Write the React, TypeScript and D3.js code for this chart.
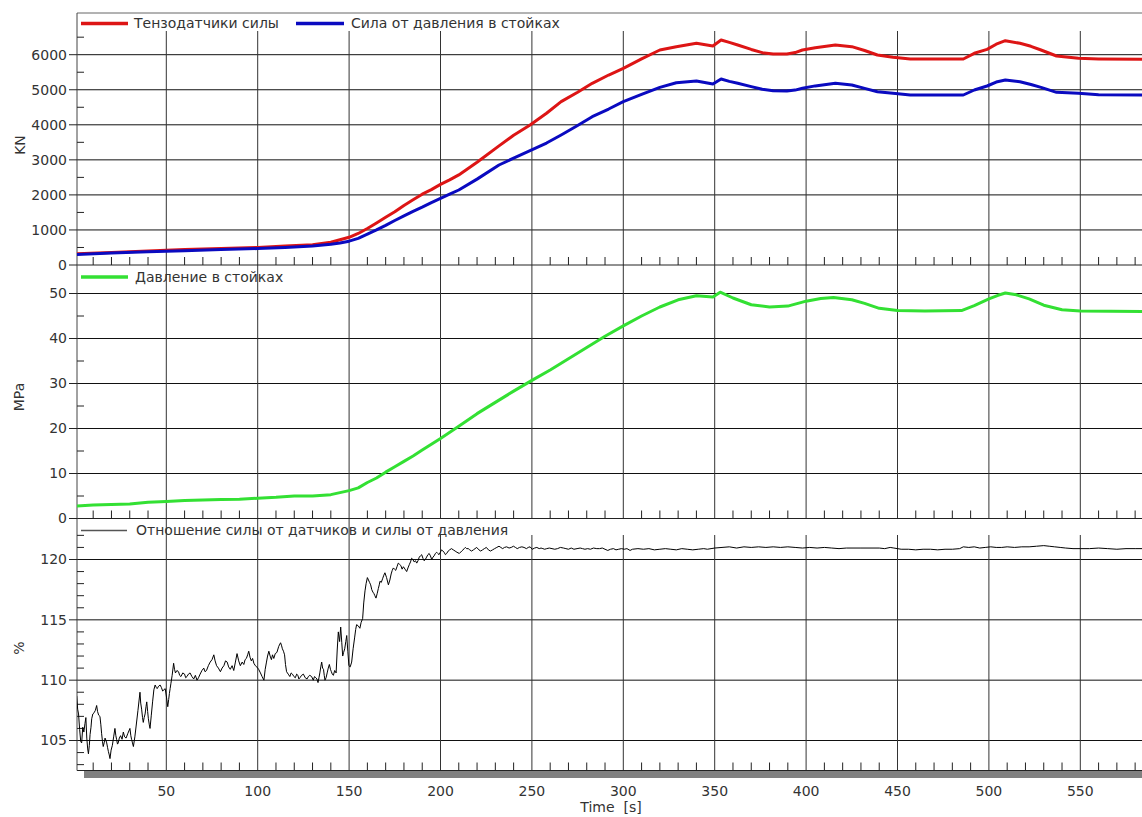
import React from "react";
import * as d3 from "d3";

const W = 1142;
const H = 817;

// ---- data ----
const forceT = [1, 20, 40, 60, 80, 100, 115, 130, 140, 145, 150, 155, 160, 165, 170, 175, 180, 185, 190, 195, 200, 205, 210, 220, 232, 240, 249, 258, 266, 275, 283, 292, 300, 310, 320, 329, 340, 349, 353.5, 358, 362.6, 370, 376, 382, 389.5, 394, 398, 405, 416, 425, 432, 439, 447.5, 457, 470, 486, 492, 499, 504, 509, 517, 523, 528.5, 537, 549, 560, 584];
const sensorForce = [320, 360, 400, 440, 470, 500, 540, 580, 650, 720, 790, 900, 1040, 1200, 1360, 1520, 1700, 1860, 2020, 2150, 2300, 2430, 2570, 2930, 3400, 3700, 3994, 4330, 4660, 4930, 5183, 5420, 5611, 5880, 6134, 6229, 6325, 6248, 6419, 6350, 6277, 6150, 6058, 6020, 6020, 6060, 6134, 6200, 6277, 6229, 6120, 5991, 5926, 5877, 5877, 5877, 6040, 6153, 6300, 6399, 6325, 6240, 6134, 5963, 5897, 5880, 5868];
const pressureForce = [300, 340, 380, 410, 440, 470, 500, 540, 590, 630, 680, 760, 880, 1000, 1130, 1270, 1400, 1530, 1650, 1780, 1900, 2020, 2140, 2450, 2853, 3050, 3260, 3480, 3709, 3980, 4232, 4450, 4660, 4870, 5069, 5201, 5250, 5164, 5307, 5240, 5184, 5090, 5012, 4970, 4964, 4990, 5041, 5110, 5184, 5136, 5040, 4945, 4898, 4850, 4850, 4850, 4993, 5107, 5220, 5278, 5230, 5150, 5069, 4926, 4898, 4860, 4850];

const pressT = [1, 10, 20, 30, 40, 50, 60, 70, 80, 90, 100, 110, 120, 130, 140, 150, 155, 160, 165, 170, 175, 180, 185, 190, 195, 200, 210, 220, 230, 240, 250, 260, 270, 280, 290, 300, 310, 320, 330, 340, 349, 353, 360, 370, 380, 390, 400, 408, 415, 425, 432, 440, 450, 465, 485, 492, 500, 505, 509, 515, 522, 530, 540, 550, 584];
const pressure = [2.8, 3.0, 3.1, 3.2, 3.6, 3.8, 4.0, 4.1, 4.2, 4.3, 4.5, 4.7, 5.0, 5.0, 5.3, 6.2, 6.8, 8.0, 9.0, 10.3, 11.5, 12.7, 13.9, 15.2, 16.5, 17.8, 20.5, 23.3, 25.8, 28.3, 30.7, 33.0, 35.5, 38.0, 40.5, 42.8, 45.0, 47.0, 48.6, 49.5, 49.2, 50.3, 49.0, 47.5, 47.0, 47.2, 48.3, 48.9, 49.1, 48.6, 47.8, 46.7, 46.2, 46.1, 46.2, 47.3, 48.8, 49.6, 50.1, 49.7, 48.8, 47.4, 46.4, 46.1, 46.0];

// [time s, ratio %]
const ratioPoints: [number, number][] = [
  [1,108.7],[1.5,107.6],[2,107.2],[2.6,105.9],[3.2,104.9],[3.7,104.8],[4.3,106.1],[4.9,105.7],[5.5,106.4],[6,106.9],[6.5,105.2],[7,104.3],[7.4,103.9],[7.9,104.6],[8.3,105.5],[8.8,106.1],[9.2,106.8],[9.8,107.2],[10.5,107.3],[11.2,107.5],[11.9,107.9],[12.4,107.4],[13,107.1],[13.7,107],[14.2,106.3],[14.6,105.6],[15.1,104.9],[15.5,104.5],[16,104.8],[16.5,105.2],[17,105],[17.4,104.8],[17.9,104.4],[18.3,104.1],[18.8,103.8],[19.2,103.5],[19.8,104.2],[20.5,104.6],[21.2,105.3],[21.9,106],[22.4,105.4],[22.8,105.1],[23.3,104.7],[23.7,104.8],[24.3,105.2],[25,105.4],[25.8,105.1],[26.5,105.7],[27.2,105.3],[28,105.2],[29,105.6],[30.1,106],[30.6,105.4],[31,105.1],[31.5,104.8],[32,104.5],[32.8,105.3],[33.5,106.2],[34.5,107.5],[35.6,109],[36,108.1],[36.5,107.6],[37,106.9],[37.4,106.5],[37.9,106.9],[38.4,107.2],[38.9,107.8],[39.3,108.2],[39.8,107.4],[40.2,106.8],[40.7,106.3],[41.1,106],[41.8,107.1],[42.5,108.2],[43.2,109.2],[43.9,109.6],[44.5,109.4],[45,109.3],[45.8,109.5],[46.6,109.6],[47.3,109.4],[48,109.1],[48.7,109.2],[49.4,109.3],[50.1,108.6],[50.8,107.8],[51.3,108.4],[51.7,108.9],[52.1,109.3],[52.5,109.7],[53.2,110.4],[54,111.4],[54.5,110.9],[55,110.6],[55.8,110.8],[56.7,110.7],[57.3,110.4],[58,110.3],[59,110.6],[60,110.5],[60.6,110.2],[61.3,110.3],[62.1,110.5],[63,110.6],[64,110.3],[65,110.1],[65.9,110.4],[66.8,110],[67.6,110.2],[68.5,110.5],[69.5,110.8],[70.5,111],[71.2,110.7],[72,110.8],[73,111.2],[74,111.5],[75,111.7],[76,112.1],[76.7,111.6],[77.5,111.2],[78.5,111],[79.6,110.7],[80.5,111],[81.5,111.2],[82.4,111.6],[83.3,111.5],[84.1,111.1],[85,110.9],[86,111.2],[86.9,110.8],[87.8,111.5],[88.7,112.2],[89.6,111.6],[90.5,111.2],[91.5,111.5],[92.4,111.3],[93.1,111.7],[93.8,111.8],[94.5,112.1],[95.1,112.4],[95.8,111.9],[96.5,111.6],[97.2,111.8],[97.9,111.4],[98.7,111.2],[99.5,111.1],[100.5,110.9],[101.5,110.6],[102.4,110.3],[103.4,110],[104.1,110.9],[104.8,111.5],[105.4,112],[106.1,112.4],[106.8,112],[107.5,111.7],[108.1,112.1],[108.8,111.8],[109.6,112.2],[110.5,112.3],[111.5,112.8],[112.5,113.1],[113,112.9],[113.5,112.6],[114.1,112.4],[114.7,112.1],[115.2,111.3],[115.8,110.7],[116.7,110.5],[117.6,110.3],[118.3,110.6],[119,110.5],[119.8,110.3],[120.6,110.2],[121.3,110.5],[122,110.4],[122.5,110.1],[123.1,110.2],[124,110.4],[125,110.5],[126,110.2],[127,110.1],[127.7,110.3],[128.5,110.4],[129.5,110.3],[130.4,110],[131.1,110.3],[131.8,110.2],[132.4,110.1],[133,109.8],[133.5,110.2],[134,110.6],[134.5,111.1],[135,111.5],[135.5,111],[136,110.9],[136.4,110.4],[136.8,110],[137.4,110.2],[138,110.6],[138.6,111],[139.2,111.3],[139.8,110.9],[140.3,110.7],[140.8,110.5],[141.4,110.4],[142.1,110.8],[142.9,110.6],[143.5,112.5],[144.1,114],[144.8,113.2],[145.4,114.4],[146,113.1],[146.5,112],[147,112.3],[147.6,112.6],[148.2,113.2],[148.7,113.7],[149.3,112.4],[149.9,111.2],[150.6,111.1],[151.4,111.5],[152.2,112.6],[153,113.5],[153.6,114.2],[154.1,114.6],[155,114.5],[155.9,114.3],[156.6,114.8],[157.4,115.1],[158,116.4],[158.7,117.4],[159.3,118],[160,118.5],[160.6,118.3],[161.2,118.1],[161.8,117.9],[162.4,117.5],[163,117.3],[163.5,117.2],[164.1,117],[164.7,116.8],[165.4,117.2],[166,117.6],[166.5,117.9],[166.9,118.2],[167.6,118.1],[168.3,118.4],[169,118.7],[169.6,118.9],[170.5,118.5],[171.5,117.9],[172.3,118.3],[173,118.8],[173.6,119.1],[174.2,119.3],[174.8,119.2],[175.5,119.1],[176.2,119.4],[176.9,119.7],[177.6,119.6],[178.3,119.5],[179,119.2],[179.7,119.4],[180.6,119.2],[181.5,119],[182.2,119.3],[183,119.6],[183.6,119.8],[184.2,120.1],[184.9,120],[185.6,119.8],[186.3,119.9],[187,119.7],[187.7,119.9],[188.4,120.2],[189,120.3],[189.7,120.4],[190.4,120.1],[191,119.9],[191.7,120],[192.4,120.2],[193.1,120.4],[193.8,120.5],[194.5,120.3],[195.2,120],[195.9,120.2],[196.5,120.3],[197.2,120.5],[197.9,120.6],[198.5,120.5],[199.2,120.4],[199.9,120.6],[200.6,120.8],[201.3,120.7],[202,120.6],[202.7,120.4],[203.4,120.5],[204.2,120.7],[205,120.8],[206,120.9],[207,120.8],[208,120.7],[209,120.6],[210.3,120.5],[211.6,120.7],[212.3,120.8],[213,120.9],[213.6,121],[214.3,120.9],[215.2,120.9],[216,120.8],[217,120.7],[218,120.8],[218.9,120.9],[219.8,121],[221,120.8],[222,120.7],[223,120.8],[224,120.9],[225.1,121],[226.2,120.8],[227.3,120.7],[228.5,120.8],[229.6,120.9],[230.8,121],[232,121.1],[233,121],[234,120.9],[235,121],[236.2,121.05],[237.5,120.95],[238.7,121],[239.9,121.1],[241,121],[242,120.9],[243.2,121],[244.5,121.05],[245.7,121],[247,120.9],[248,121],[249,121.05],[250.2,120.85],[251.5,120.95],[252.7,121],[254,120.9],[255,120.95],[256,120.9],[257,120.85],[258.1,120.9],[259.5,120.95],[261,120.9],[262.5,120.85],[264,120.9],[265.6,121],[267.3,120.95],[268.6,120.9],[270,120.85],[271.5,120.95],[273,120.85],[274.7,120.9],[276.4,120.95],[277.7,120.9],[279,120.85],[280.5,120.9],[282,120.85],[283.7,120.95],[285.5,120.9],[287,120.9],[288.5,120.95],[290,120.85],[291.5,120.75],[293,120.85],[294.6,120.9],[296,120.8],[297.5,120.85],[299,120.9],[300.5,120.85],[302,120.9],[303.7,120.75],[305,120.85],[308,120.9],[311,120.85],[314,120.9],[317,120.8],[320,120.85],[323,120.9],[326,120.85],[329,120.8],[332,120.9],[335,120.85],[338,120.8],[341,120.85],[344,120.9],[346,120.85],[348,120.9],[350,120.95],[354,121],[358,121.05],[362,120.95],[366,121.05],[370,121],[374,121.05],[378,121],[382,121.05],[386,121],[390,121.05],[394,121],[398,120.95],[402,121],[406,120.95],[410,121],[414,120.95],[418,120.9],[422,120.95],[430,120.95],[440,120.95],[443,120.9],[446,121],[448,120.95],[452,120.85],[456,120.85],[460,120.8],[464,120.85],[468,120.85],[472,120.8],[476,120.85],[480,120.85],[484,120.9],[486,121.05],[489,121],[492,121.05],[495,120.95],[498,121],[501,121.05],[504,121],[507,121],[510,121.05],[514,121],[518,121.05],[522,121.05],[526,121.1],[530,121.15],[533,121.1],[536,121.05],[539,121],[542,120.95],[546,120.9],[550,120.9],[555,120.9],[560,120.95],[565,120.9],[570,120.85],[575,120.9],[580,120.9],[584,120.9]
];

const xTicks = [50, 100, 150, 200, 250, 300, 350, 400, 450, 500, 550];
const kNTicks = [0, 1000, 2000, 3000, 4000, 5000, 6000];
const mpaTicks = [0, 10, 20, 30, 40, 50];
const pctTicks = [105, 110, 115, 120];

const legend1 = ["Тензодатчики силы", "Сила от давления в стойках"];
const legend2 = "Давление в стойках";
const legend3 = "Отношение силы от датчиков и силы от давления";

const FONT = "DejaVu Sans, Verdana, sans-serif";
const TXT = "#333";

export default function App() {
  const left = 77;
  const right = W;
  const top = 13;
  const p1b = 265;
  const p2b = 518.5;
  const p3b = 770.5;

  const x = d3.scaleLinear().domain([0, 600]).range([74.9, 74.9 + 12 * 91.4]);
  const y1 = d3.scaleLinear().domain([0, 6000]).range([p1b, p1b - 6 * 35.05]);
  const y2 = d3.scaleLinear().domain([0, 50]).range([p2b, p2b - 5 * 45]);
  const y3 = d3.scaleLinear().domain([105, 120]).range([740.5, 559.5]);

  const mk = (ts: number[], vs: number[], y: d3.ScaleLinear<number, number>) =>
    d3.line<number>().x((_, i) => x(ts[i])).y((v) => y(v))(vs) || "";
  const ratioPath =
    d3.line<[number, number]>().x((d) => x(d[0])).y((d) => y3(d[1]))(ratioPoints) || "";

  const minorX = d3.range(10, 590, 10).filter((t) => t % 50 !== 0);

  const kNMinor = d3.range(500, 7000, 1000);
  const mpaMinor = d3.range(5, 55, 10);
  const pctMinor = d3.range(103, 123, 1).filter((v) => v % 5 !== 0);

  const gridTop1 = 31;

  const yTickGroup = (
    ticks: number[],
    minor: number[],
    y: d3.ScaleLinear<number, number>,
    key: string
  ) => (
    <g key={key}>
      {ticks.map((t) => (
        <g key={t}>
          <line x1={left - 8} x2={left} y1={y(t)} y2={y(t)} stroke="#222" />
          <text
            x={left - 10}
            y={y(t)}
            dy="0.35em"
            textAnchor="end"
            fontFamily={FONT}
            fontSize={14}
            fill={TXT}
          >
            {t}
          </text>
        </g>
      ))}
      {minor.map((t) => (
        <line key={"m" + t} x1={left} x2={left + 7} y1={y(t)} y2={y(t)} stroke="#222" />
      ))}
    </g>
  );

  return (
    <svg
      width={W}
      height={H}
      style={{ position: "absolute", left: 0, top: 0, display: "block", background: "#fff" }}
    >
      <defs>
        <clipPath id="plotclip">
          <rect x={left} y={top} width={right - left} height={p3b - top} />
        </clipPath>
      </defs>
      <rect x={0} y={0} width={W} height={H} fill="#fff" />

      {/* horizontal gridlines */}
      {kNTicks.filter((t) => t > 0).map((t) => (
        <line key={"h1" + t} x1={left} x2={right} y1={y1(t)} y2={y1(t)} stroke="#111" />
      ))}
      {mpaTicks.filter((t) => t > 0).map((t) => (
        <line key={"h2" + t} x1={left} x2={right} y1={y2(t)} y2={y2(t)} stroke="#111" />
      ))}
      {pctTicks.map((t) => (
        <line key={"h3" + t} x1={left} x2={right} y1={y3(t)} y2={y3(t)} stroke="#111" />
      ))}

      {/* vertical gridlines */}
      {xTicks.map((t) => (
        <g key={"v" + t}>
          <line x1={x(t)} x2={x(t)} y1={gridTop1} y2={p2b} stroke="#333" />
          <line x1={x(t)} x2={x(t)} y1={t < 200 ? p2b : 535} y2={p3b} stroke="#333" />
        </g>
      ))}

      {/* panel separators with minor ticks */}
      {[p1b, p2b, p3b].map((yy) => (
        <g key={"sep" + yy}>
          <line x1={left} x2={right} y1={yy} y2={yy} stroke="#222" />
          {minorX.map((t) => (
            <line key={t} x1={x(t)} x2={x(t)} y1={yy - 8} y2={yy} stroke="#222" />
          ))}
        </g>
      ))}

      {/* top and left borders */}
      <line x1={left} x2={right} y1={top} y2={top} stroke="#666" />
      <line x1={left} x2={left} y1={top} y2={p3b} stroke="#444" />

      {/* y axes */}
      {yTickGroup(kNTicks, kNMinor, y1, "ax1")}
      {yTickGroup(mpaTicks, mpaMinor, y2, "ax2")}
      {yTickGroup(pctTicks, pctMinor, y3, "ax3")}

      {/* bottom scrollbar-like bar */}
      <rect x={84} y={p3b + 0.5} width={right - 84} height={7} fill="#808080" />

      {/* x tick labels */}
      {xTicks.map((t) => (
        <text
          key={"xl" + t}
          x={x(t)}
          y={791}
          dy="0.35em"
          textAnchor="middle"
          fontFamily={FONT}
          fontSize={14}
          fill={TXT}
        >
          {t}
        </text>
      ))}
      <text x={611} y={807} dy="0.35em" textAnchor="middle" fontFamily={FONT} fontSize={14} fill={TXT} xmlSpace="preserve">
        {"Time  [s]"}
      </text>

      {/* y titles */}
      <text transform="translate(20,145) rotate(-90)" dy="0.35em" textAnchor="middle" fontFamily={FONT} fontSize={14} fill={TXT}>
        KN
      </text>
      <text transform="translate(19,397) rotate(-90)" dy="0.35em" textAnchor="middle" fontFamily={FONT} fontSize={14} fill={TXT}>
        MPa
      </text>
      <text transform="translate(19,648) rotate(-90)" dy="0.35em" textAnchor="middle" fontFamily={FONT} fontSize={14} fill={TXT}>
        %
      </text>

      {/* data lines */}
      <g clipPath="url(#plotclip)" fill="none" strokeLinejoin="round">
        <path d={mk(forceT, sensorForce, y1)} stroke="#dd1515" strokeWidth={3} />
        <path d={mk(forceT, pressureForce, y1)} stroke="#0a0ac0" strokeWidth={3} />
        <path d={mk(pressT, pressure, y2)} stroke="#33e033" strokeWidth={3} />
        <path d={ratioPath} stroke="#000" strokeWidth={1} />
      </g>

      {/* legends */}
      <g fontFamily={FONT} fontSize={14} fill={TXT}>
        <line x1={81} x2={128} y1={23.5} y2={23.5} stroke="#dd1515" strokeWidth={3.5} />
        <text x={134} y={23.5} dy="0.35em">{legend1[0]}</text>
        <line x1={296} x2={344} y1={23.5} y2={23.5} stroke="#0a0ac0" strokeWidth={3.5} />
        <text x={351} y={23.5} dy="0.35em">{legend1[1]}</text>

        <line x1={81} x2={128} y1={277} y2={277} stroke="#33e033" strokeWidth={3.5} />
        <text x={135} y={277} dy="0.35em">{legend2}</text>

        <line x1={81} x2={127} y1={530.5} y2={530.5} stroke="#555" strokeWidth={1.5} />
        <text x={136} y={530.5} dy="0.35em">{legend3}</text>
      </g>
    </svg>
  );
}
